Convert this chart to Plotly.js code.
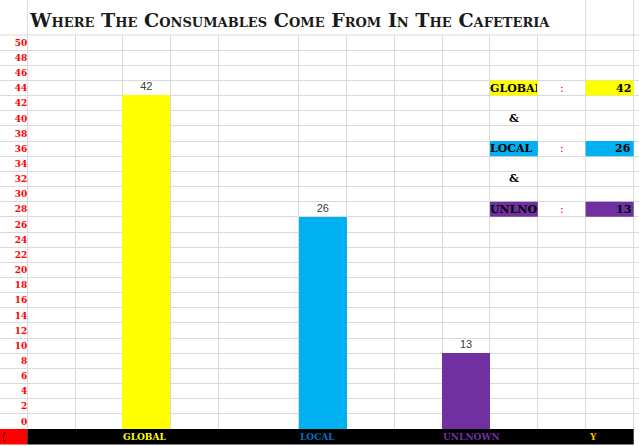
<!DOCTYPE html>
<html>
<head>
<meta charset="utf-8">
<script src="https://cdn.plot.ly/plotly-3.0.1.min.js"></script>
<style>html,body{margin:0;padding:0;background:#fff;}#chart{width:639px;height:446px;}</style>
</head>
<body>
<div id="chart"></div>
<script>
// ---- data ----
const categories = ['GLOBAL', 'LOCAL', 'UNLNOWN'];
const barLabels = [42, 26, 13];            // printed data labels / summary values
const barTops = [43.1, 27.0, 9.0];         // bar heights as read on the row scale
const yTickLabels = [0, 2, 4, 6, 8, 10, 12, 14, 16, 18, 20, 22, 24, 26, 28, 30, 32, 34, 36, 38, 40, 42, 44, 46, 48, 50];
const extraFooterLabel = 'Y';
const titleText = 'Where The Consumables Come From In The Cafeteria';

// ---- layout / style ----
const W = 639, H = 446;
const M = {l: 0, r: 0, t: 35, b: 17};
const plotH = H - M.t - M.b;
const columnEdges = [27.3, 75.4, 122.2, 170.3, 218.3, 298.7, 346.8, 394.6, 442.2, 489.9, 537.9, 585.6, 633.7];
const barColumns = [2, 5, 8];              // spreadsheet column (index of left edge) for each bar
const barColors = ['#ffff00', '#00b0f0', '#7030a0'];
const footerColors = ['#ffff00', '#0070c0', '#7030a0', '#ffc000'];
const tableRows = [44, 36, 28];            // row (axis value) for each summary line
const ampRows = [40, 32];
const tableNameCol = 9, tableColonCol = 10, tableValueCol = 11;
const gridColor = '#dadada';
const baseLevel = -1;

const colCenter = i => (columnEdges[i] + columnEdges[i + 1]) / 2;
const colWidth = i => columnEdges[i + 1] - columnEdges[i];
const pyToPaper = py => (H - M.b - py) / plotH;

const trace = {
  type: 'bar',
  x: barColumns.map(colCenter),
  y: barTops.map(t => t - baseLevel),
  base: baseLevel,
  width: barColumns.map(colWidth),
  marker: {color: barColors, line: {width: 0}},
  text: barLabels.map(String),
  textposition: 'outside',
  textfont: {family: 'Liberation Sans, Arial, sans-serif', size: 11, color: '#404040'},
  cliponaxis: false,
  hoverinfo: 'skip'
};

const shapes = [];
const annotations = [];

// title row vertical lines + top row line
[0, 11, 12].forEach(i => shapes.push({type: 'line', xref: 'x', yref: 'paper', x0: columnEdges[i], x1: columnEdges[i], y0: 1, y1: 1 + M.t / plotH, line: {color: gridColor, width: 1}, layer: 'below'}));
shapes.push({type: 'line', xref: 'paper', yref: 'paper', x0: 0, x1: 1, y0: 1, y1: 1, line: {color: gridColor, width: 1}, layer: 'below'});

// footer strip
const stripBottom = pyToPaper(444.5);
shapes.push({type: 'rect', xref: 'paper', yref: 'paper', x0: 0, x1: columnEdges[0] / W, y0: stripBottom, y1: 0, fillcolor: '#ff0000', line: {width: 0}});
shapes.push({type: 'rect', xref: 'paper', yref: 'paper', x0: columnEdges[0] / W, x1: columnEdges[12] / W, y0: stripBottom, y1: 0, fillcolor: '#000000', line: {width: 0}});
annotations.push({xref: 'paper', yref: 'paper', x: 0, y: stripBottom / 2, xanchor: 'left', yanchor: 'middle', text: '(', showarrow: false, font: {family: 'Liberation Sans', size: 10, color: '#000'}});
const footerTexts = categories.concat([extraFooterLabel]);
const footerCols = barColumns.concat([11]);
footerTexts.forEach((t, k) => annotations.push({
  xref: 'x', yref: 'paper', x: columnEdges[footerCols[k]] + (k === 3 ? 1 : -1), y: stripBottom / 2,
  xanchor: 'left', yanchor: 'middle', text: t, showarrow: false,
  font: {family: 'DejaVu Serif Condensed, Liberation Serif, serif', size: 10, weight: 'bold', color: footerColors[k]}
}));

// summary table
const tFont = {family: 'DejaVu Serif, serif', size: 11, weight: 'bold', color: '#000'};
categories.forEach((c, k) => {
  const r = tableRows[k];
  shapes.push({type: 'rect', xref: 'x', yref: 'y', x0: columnEdges[tableNameCol], x1: columnEdges[tableNameCol + 1], y0: r - 1, y1: r + 1, fillcolor: barColors[k], line: {width: 0}});
  shapes.push({type: 'rect', xref: 'x', yref: 'y', x0: columnEdges[tableValueCol], x1: columnEdges[tableValueCol + 1], y0: r - 1, y1: r + 1, fillcolor: barColors[k], line: {width: 0}});
  annotations.push({xref: 'x', yref: 'y', x: columnEdges[tableNameCol] - 1, y: r, xanchor: 'left', yanchor: 'middle', width: colWidth(tableNameCol) - 1, align: 'left', borderpad: 0, text: c, showarrow: false, font: tFont});
  annotations.push({xref: 'x', yref: 'y', x: colCenter(tableColonCol), y: r, xanchor: 'center', yanchor: 'middle', text: ':', showarrow: false, font: {family: 'DejaVu Serif', size: 11, color: '#ff0000'}});
  annotations.push({xref: 'x', yref: 'y', x: columnEdges[tableValueCol + 1] - 1, y: r, xanchor: 'right', yanchor: 'middle', text: String(barLabels[k]), showarrow: false, font: tFont});
});
ampRows.forEach(r => annotations.push({xref: 'x', yref: 'y', x: colCenter(tableNameCol), y: r, xanchor: 'center', yanchor: 'middle', text: '&', showarrow: false, font: tFont}));

const layout = {
  width: W, height: H,
  margin: M,
  paper_bgcolor: '#ffffff', plot_bgcolor: '#ffffff',
  showlegend: false,
  title: {
    text: titleText, xref: 'container', yref: 'container',
    x: 30 / W, xanchor: 'left', y: 1 - 20 / H, yanchor: 'middle',
    font: {family: 'DejaVu Serif, serif', size: 19.1, weight: 'bold', variant: 'small-caps', color: '#1a1a1a'}
  },
  xaxis: {
    range: [0, W], tickvals: columnEdges, showticklabels: false, ticks: '',
    showgrid: true, gridcolor: gridColor, gridwidth: 1, zeroline: false, showline: false, fixedrange: true
  },
  yaxis: {
    range: [-1, 51], anchor: 'free', position: columnEdges[0] / W,
    tickvals: yTickLabels, ticktext: yTickLabels.map(String), ticks: '',
    tickfont: {family: 'DejaVu Serif, serif', size: 9, weight: 'bold', color: '#ff0000'},
    showgrid: false, zeroline: false, showline: false, fixedrange: true,
    minor: {tick0: 1, dtick: 2, showgrid: true, gridcolor: gridColor, gridwidth: 1, ticks: ''}
  },
  shapes: shapes,
  annotations: annotations,
  bargap: 0
};

Plotly.newPlot('chart', [trace], layout, {displayModeBar: false, staticPlot: true});
</script>
</body>
</html>
